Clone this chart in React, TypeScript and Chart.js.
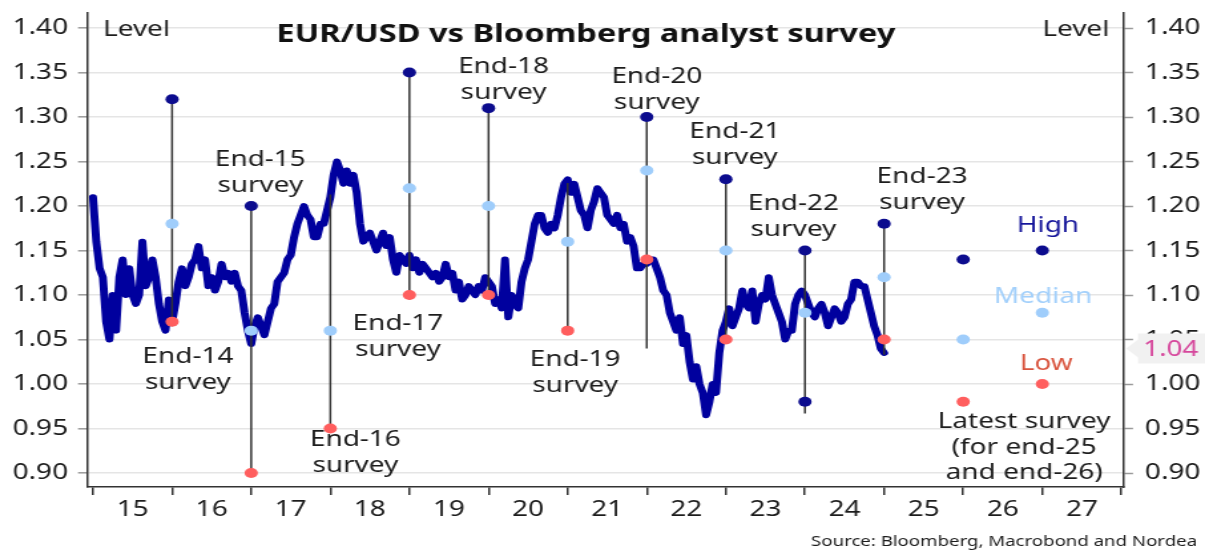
import React, { useEffect, useRef } from 'react';
import { Chart, registerables } from 'chart.js';

Chart.register(...registerables);

// ---------- data ----------
// EUR/USD, two readings per month, one array per calendar year
const fx2015 = [1.21, 1.16, 1.13, 1.12, 1.07, 1.05, 1.10, 1.06, 1.12, 1.14, 1.10, 1.13, 1.10, 1.09, 1.10, 1.16, 1.11, 1.12, 1.14, 1.12, 1.09, 1.07, 1.06, 1.095];
const fx2016 = [1.07, 1.09, 1.115, 1.13, 1.11, 1.12, 1.135, 1.14, 1.155, 1.13, 1.14, 1.11, 1.12, 1.105, 1.115, 1.135, 1.12, 1.125, 1.115, 1.125, 1.11, 1.105, 1.08, 1.06];
const fx2017 = [1.045, 1.065, 1.075, 1.065, 1.055, 1.07, 1.085, 1.09, 1.115, 1.12, 1.125, 1.14, 1.145, 1.165, 1.18, 1.19, 1.20, 1.19, 1.185, 1.165, 1.165, 1.18, 1.18, 1.195];
const fx2018 = [1.21, 1.235, 1.25, 1.24, 1.225, 1.24, 1.225, 1.235, 1.215, 1.18, 1.16, 1.165, 1.17, 1.16, 1.15, 1.16, 1.17, 1.155, 1.165, 1.14, 1.125, 1.145, 1.14, 1.135];
const fx2019 = [1.145, 1.13, 1.14, 1.125, 1.135, 1.13, 1.125, 1.12, 1.125, 1.115, 1.12, 1.135, 1.12, 1.125, 1.105, 1.115, 1.095, 1.10, 1.11, 1.105, 1.10, 1.11, 1.105, 1.12];
const fx2020 = [1.115, 1.11, 1.09, 1.095, 1.085, 1.14, 1.075, 1.10, 1.09, 1.085, 1.115, 1.13, 1.14, 1.16, 1.18, 1.19, 1.19, 1.175, 1.17, 1.18, 1.175, 1.19, 1.21, 1.225];
const fx2021 = [1.23, 1.215, 1.225, 1.21, 1.195, 1.19, 1.175, 1.195, 1.205, 1.22, 1.215, 1.21, 1.19, 1.185, 1.18, 1.19, 1.175, 1.18, 1.16, 1.165, 1.155, 1.13, 1.13, 1.135];
const fx2022 = [1.135, 1.14, 1.14, 1.13, 1.12, 1.105, 1.10, 1.08, 1.07, 1.06, 1.075, 1.045, 1.055, 1.025, 1.005, 1.02, 1.00, 0.99, 0.965, 0.98, 1.00, 0.99, 1.035, 1.06];
const fx2023 = [1.07, 1.085, 1.065, 1.075, 1.085, 1.105, 1.09, 1.085, 1.105, 1.07, 1.09, 1.10, 1.095, 1.12, 1.10, 1.09, 1.08, 1.07, 1.05, 1.06, 1.06, 1.09, 1.10, 1.105];
const fx2024 = [1.10, 1.09, 1.08, 1.075, 1.085, 1.09, 1.08, 1.065, 1.075, 1.085, 1.08, 1.07, 1.075, 1.09, 1.095, 1.115, 1.115, 1.11, 1.11, 1.095, 1.08, 1.065, 1.055, 1.04];
const fx2025 = [1.035];
const fxYears = [2015, 2016, 2017, 2018, 2019, 2020, 2021, 2022, 2023, 2024, 2025];
const fxByYear = [fx2015, fx2016, fx2017, fx2018, fx2019, fx2020, fx2021, fx2022, fx2023, fx2024, fx2025];

// Bloomberg survey, plotted at the forecast horizon (year-end)
const surveyYears = [2016, 2017, 2018, 2019, 2020, 2021, 2022, 2023, 2024, 2025, 2026, 2027];
const surveyHigh = [1.32, 1.20, null, 1.35, 1.31, null, 1.30, 1.23, 1.15, 1.18, 1.14, 1.15];
const surveyMedian = [1.18, 1.06, 1.06, 1.22, 1.20, 1.16, 1.24, 1.15, 1.08, 1.12, 1.05, 1.08];
const surveyLow = [1.07, 0.90, 0.95, 1.10, 1.10, 1.06, 1.14, 1.05, 0.98, 1.05, 0.98, 1.00];
const rangeTop = [1.32, 1.20, 1.213, 1.35, 1.31, 1.226, 1.30, 1.23, 1.15, 1.18, null, null];
const rangeBottom = [1.065, 0.90, 0.95, 1.095, 1.098, 1.06, 1.04, 1.045, 0.967, 1.033, null, null];

const yTickValues = [0.90, 0.95, 1.00, 1.05, 1.10, 1.15, 1.20, 1.25, 1.30, 1.35, 1.40];
const xTickYears = [2015, 2016, 2017, 2018, 2019, 2020, 2021, 2022, 2023, 2024, 2025, 2026, 2027, 2028];
const latestValue = 1.04;

const surveyLabels = [
  { lines: ['End-14', 'survey'], x: 2016.2 },
  { lines: ['End-15', 'survey'], x: 2017.114 },
  { lines: ['End-16', 'survey'], x: 2018.316 },
  { lines: ['End-17', 'survey'], x: 2018.854 },
  { lines: ['End-18', 'survey'], x: 2020.19 },
  { lines: ['End-19', 'survey'], x: 2021.095 },
  { lines: ['End-20', 'survey'], x: 2022.127 },
  { lines: ['End-21', 'survey'], x: 2023.114 },
  { lines: ['End-22', 'survey'], x: 2023.854 },
  { lines: ['End-23', 'survey'], x: 2025.48 },
  { lines: ['Latest survey', '(for end-25', 'and end-26)'], x: 2026.77 },
];
// first-line baselines (px) for the labels above, same order
const surveyLabelBase = [363, 166, 446, 330, 73, 366, 83, 138, 210, 183, 428];

// ---------- style / layout ----------
const CANVAS_W = 906;
const CANVAS_H = 550;
const S = 1205 / CANVAS_W; // the published picture is stretched horizontally
const FONT = "'Noto Sans', 'DejaVu Sans', sans-serif";
const TEXT = '#1c1c1c';
const HIGH = '#0c0c8e';
const MEDIAN = '#9fcdfb';
const LOW = '#ff5e5e';
const LINE = '#00009e';
const X_MIN = 2014.937;
const X_MAX = 2028.02;
const Y_MIN = 0.8843;
const Y_MAX = 1.4169;
const LEFT_W = 88 / S;
const RIGHT_W = CANVAS_W - 1123 / S;

const overlay = {
  id: 'overlay',
  afterDraw(chart: any) {
    const ctx = chart.ctx as CanvasRenderingContext2D;
    const xs = chart.scales.x;
    const ys = chart.scales.y;
    const area = chart.chartArea;
    ctx.save();

    // title
    ctx.fillStyle = '#111';
    ctx.textAlign = 'center';
    ctx.textBaseline = 'alphabetic';
    ctx.font = `bold 24.5px ${FONT}`;
    ctx.fillText('EUR/USD vs Bloomberg analyst survey', xs.getPixelForValue(2021.23), 42);

    // Level labels
    ctx.font = `21px ${FONT}`;
    ctx.fillStyle = TEXT;
    ctx.textAlign = 'left';
    ctx.fillText('Level', xs.getPixelForValue(2015.127), 36);
    ctx.textAlign = 'right';
    ctx.fillText('Level', xs.getPixelForValue(2027.848), 36);

    // survey labels
    ctx.textAlign = 'center';
    surveyLabels.forEach((a, k) => {
      const x = xs.getPixelForValue(a.x);
      a.lines.forEach((t, i) => ctx.fillText(t, x, surveyLabelBase[k] + i * 25.5));
    });

    // legend words
    ctx.fillStyle = '#14149a';
    ctx.fillText('High', xs.getPixelForValue(2027.07), 232);
    ctx.fillStyle = '#a3d0fb';
    ctx.fillText('Median', xs.getPixelForValue(2027.01), 303);
    ctx.fillStyle = '#d9553f';
    ctx.fillText('Low', xs.getPixelForValue(2027.05), 370);

    // latest value tag on right axis
    const yv = ys.getPixelForValue(latestValue);
    const tip = area.right + 3 / S;
    const boxL = 1138 / S;
    ctx.fillStyle = '#f1f1f1';
    ctx.beginPath();
    ctx.moveTo(tip, yv);
    ctx.lineTo(boxL, yv - 9);
    ctx.lineTo(boxL, yv - 15);
    ctx.lineTo(CANVAS_W, yv - 15);
    ctx.lineTo(CANVAS_W, yv + 15);
    ctx.lineTo(boxL, yv + 15);
    ctx.lineTo(boxL, yv + 9);
    ctx.closePath();
    ctx.fill();
    ctx.fillStyle = '#d6479c';
    ctx.textAlign = 'left';
    ctx.font = `21px ${FONT}`;
    ctx.fillText(latestValue.toFixed(2), 1143 / S, yv + 8);

    // source
    ctx.fillStyle = TEXT;
    ctx.textAlign = 'right';
    ctx.font = `14px ${FONT}`;
    ctx.fillText('Source: Bloomberg, Macrobond and Nordea', 1197 / S, 546);
    ctx.restore();
  },
};

export default function App() {
  const ref = useRef<HTMLCanvasElement | null>(null);

  useEffect(() => {
    if (!ref.current) return;
    const fxPoints = fxYears.flatMap((yr, k) => fxByYear[k].map((v, i) => ({ x: yr + i / 24, y: v })));
    const pts = (vals: (number | null)[]) => surveyYears.map((x, i) => ({ x, y: vals[i] }));
    const rangePts: { x: number; y: number | null }[] = [];
    surveyYears.forEach((x, i) => {
      if (rangeTop[i] == null) return;
      rangePts.push({ x, y: rangeTop[i] as number }, { x, y: rangeBottom[i] as number }, { x, y: null });
    });
    const lowColors = surveyLow.map((_, i) => (i === 8 ? HIGH : LOW));
    const halfYearPx = ((1123 - 88) / S) / (X_MAX - X_MIN) / 2;

    const yTicksCommon = {
      color: TEXT,
      font: { family: FONT, size: 21 },
      callback: (v: any) => Number(v).toFixed(2),
    };
    const noPad = (s: any) => { s.paddingTop = 0; s.paddingBottom = 0; };

    const chart = new Chart(ref.current, {
      type: 'line',
      data: {
        datasets: [
          { label: 'High', data: pts(surveyHigh), showLine: false, pointRadius: 5, pointHoverRadius: 5, pointBorderWidth: 0, pointBackgroundColor: HIGH, borderColor: HIGH },
          { label: 'Median', data: pts(surveyMedian), showLine: false, pointRadius: 5, pointHoverRadius: 5, pointBorderWidth: 0, pointBackgroundColor: MEDIAN, borderColor: MEDIAN },
          { label: 'Low', data: pts(surveyLow), showLine: false, pointRadius: 5, pointHoverRadius: 5, pointBorderWidth: 0, pointBackgroundColor: lowColors, borderColor: LOW },
          { label: 'Range', data: rangePts, borderColor: '#333', borderWidth: 1.5, pointRadius: 0, spanGaps: false },
          { label: 'EUR/USD', data: fxPoints, borderColor: LINE, borderWidth: 6, pointRadius: 0, tension: 0, borderJoinStyle: 'round', borderCapStyle: 'round' },
        ] as any,
      },
      options: {
        responsive: false,
        animation: false,
        events: [],
        layout: { padding: { top: 13, left: 0, right: 0, bottom: 0 } },
        plugins: { legend: { display: false }, tooltip: { enabled: false }, title: { display: false } },
        scales: {
          x: {
            type: 'linear',
            position: 'bottom',
            min: X_MIN,
            max: X_MAX,
            afterBuildTicks: (s: any) => { s.ticks = xTickYears.map((v) => ({ value: v })); },
            afterFit: (s: any) => { s.height = CANVAS_H - 487; s.paddingLeft = 0; s.paddingRight = 0; },
            ticks: {
              autoSkip: false,
              maxRotation: 0,
              labelOffset: halfYearPx,
              padding: 2,
              color: TEXT,
              font: { family: FONT, size: 21 },
              callback: (v: any) => (v < 2028 ? String(v).slice(2) : ''),
            },
            grid: { drawOnChartArea: false, drawTicks: true, tickLength: 8, tickColor: '#333', lineWidth: 1.5, tickWidth: 1.5 },
            border: { display: true, color: '#333', width: 1.5 },
          },
          y: {
            type: 'linear',
            position: 'left',
            min: Y_MIN,
            max: Y_MAX,
            afterBuildTicks: (s: any) => { s.ticks = yTickValues.map((v) => ({ value: v })); },
            afterFit: (s: any) => { s.width = LEFT_W; noPad(s); },
            ticks: { ...yTicksCommon, padding: 7.5 },
            grid: { color: '#e5e5e5', lineWidth: 1.6, tickColor: '#9a9a9a', tickLength: 10 / S, tickWidth: 1.5 },
            border: { display: true, color: '#333', width: 1.5 },
          },
          y2: {
            type: 'linear',
            position: 'right',
            min: Y_MIN,
            max: Y_MAX,
            afterBuildTicks: (s: any) => { s.ticks = yTickValues.map((v) => ({ value: v })); },
            afterFit: (s: any) => { s.width = RIGHT_W; noPad(s); },
            ticks: { ...yTicksCommon, padding: 9 },
            grid: { drawOnChartArea: false, tickColor: '#9a9a9a', tickLength: 10 / S, tickWidth: 1.5 },
            border: { display: true, color: '#333', width: 1.5 },
          },
        },
      } as any,
      plugins: [overlay],
    });
    return () => chart.destroy();
  }, []);

  return (
    <div style={{ position: 'absolute', left: 0, top: 0, width: 1205, height: 550, background: '#fff' }}>
      <canvas ref={ref} width={CANVAS_W} height={CANVAS_H} style={{ width: '1205px', height: '550px', display: 'block' }} />
    </div>
  );
}
